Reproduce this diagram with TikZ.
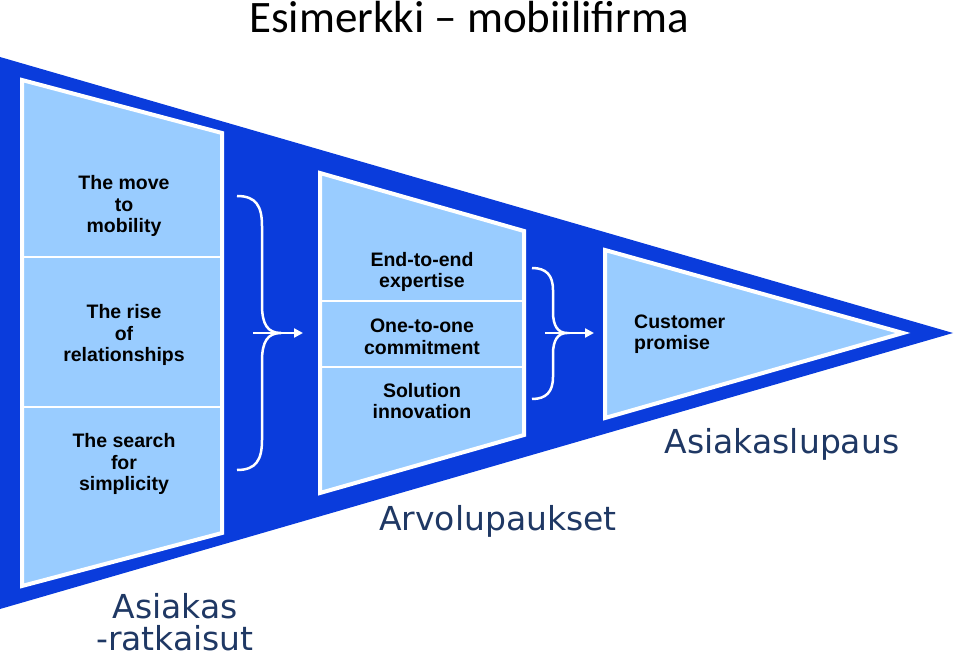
\documentclass[tikz,border=0pt]{standalone}
\usepackage{fontspec}
\setmainfont{Liberation Sans}
\newfontfamily\titlefnt{Carlito}
\newfontfamily\verfnt{DejaVu Sans}
\usetikzlibrary{arrows.meta}
\definecolor{bigblue}{HTML}{0A3CDC}
\definecolor{lightpanel}{HTML}{99CCFF}
\definecolor{labelcol}{HTML}{1F3864}
\tikzset{
  panel/.style={fill=lightpanel, draw=white, line width=4pt, line join=miter},
  divider/.style={draw=white, line width=2.5pt},
  ptext/.style={font=\fontsize{19.5}{21.5}\selectfont\bfseries, text=black, align=center, inner sep=0pt},
  biglabel/.style={font=\verfnt\fontsize{33}{38}\selectfont, text=labelcol, anchor=base, inner sep=0pt},
  bracestyle/.style={draw=white, line width=2.5pt},
  flowarrow/.style={draw=white, line width=2.5pt, -{Triangle[length=9pt,width=9pt]}}
}
\begin{document}
\begin{tikzpicture}[x=1pt,y=-1pt]
\useasboundingbox (0,0) rectangle (959,655);
% title
\node[font=\titlefnt\fontsize{45}{50}\selectfont, anchor=base, inner sep=0pt] (title) at (469,33) {Esimerkki – mobiilifirma};
% big triangle
\fill[bigblue] (0,57) -- (953,333) -- (0,609) -- cycle;
% panel 1
\draw[panel] (22,80) -- (222,133) -- (222,533) -- (22,586) -- cycle;
\draw[divider] (22,257) -- (222,257);
\draw[divider] (22,407) -- (222,407);
\node[ptext] (t11) at (124,206) {The move\\to\\mobility};
\node[ptext] (t12) at (124,335) {The rise\\of\\relationships};
\node[ptext] (t13) at (124,464) {The search\\for\\simplicity};
% panel 2
\draw[panel] (320,173) -- (524,231) -- (524,435) -- (320,493) -- cycle;
\draw[divider] (320,301) -- (524,301);
\draw[divider] (320,367) -- (524,367);
\node[ptext] (t21) at (422,272) {End-to-end\\expertise};
\node[ptext] (t22) at (422,337) {One-to-one\\commitment};
\node[ptext] (t23) at (422,401) {Solution\\innovation};
% panel 3
\draw[panel] (605,250) -- (903,333) -- (605,418) -- cycle;
\node[ptext, align=left, anchor=west] (t31) at (634,334) {Customer\\promise};
% brace 1
\coordinate (b1top) at (237,196);
\coordinate (b1bot) at (237,470);
\coordinate (b1cusp) at (281,333);
\coordinate (a1s) at (253,333);
\coordinate (a1e) at (303,333);
\draw[bracestyle] (b1top) .. controls (256,196) and (262,206) .. (262,226) -- (262,305)
  .. controls (262,325) and (268,333) .. (b1cusp)
  .. controls (268,333) and (262,341) .. (262,361) -- (262,440)
  .. controls (262,460) and (256,470) .. (b1bot);
\draw[flowarrow] (a1s) -- (a1e);
% brace 2
\coordinate (b2top) at (532,268);
\coordinate (b2bot) at (532,399);
\coordinate (b2cusp) at (567,333);
\coordinate (a2s) at (545,333);
\coordinate (a2e) at (594,333);
\draw[bracestyle] (b2top) .. controls (546,268) and (553,275) .. (553,290) -- (553,312)
  .. controls (553,326) and (558,333) .. (b2cusp)
  .. controls (558,333) and (553,340) .. (553,354) -- (553,377)
  .. controls (553,392) and (546,399) .. (b2bot);
\draw[flowarrow] (a2s) -- (a2e);
% labels
\node[biglabel] (l1a) at (175,618) {Asiakas};
\node[biglabel] (l1b) at (175,650) {-ratkaisut};
\node[biglabel] (l2) at (498,530) {Arvolupaukset};
\node[biglabel] (l3) at (782,453) {Asiakaslupaus};
\end{tikzpicture}
\end{document}
